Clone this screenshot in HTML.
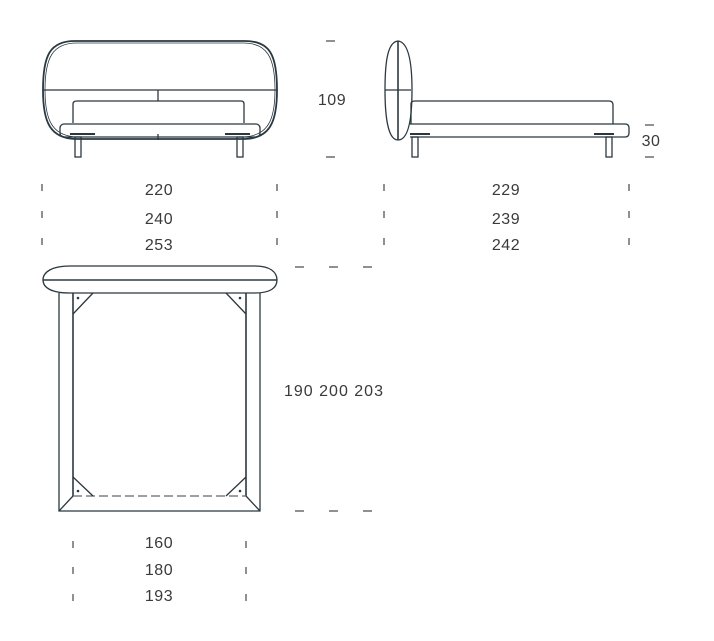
<!DOCTYPE html>
<html><head><meta charset="utf-8"><style>
html,body{margin:0;padding:0;background:#fff;}
svg{display:block}
text{font-family:"Liberation Sans",sans-serif;font-size:16px;fill:#3a3a3a;letter-spacing:0.5px;}
</style></head><body>
<svg width="714" height="641" viewBox="0 0 714 641" xmlns="http://www.w3.org/2000/svg">
<g fill="none" stroke="#2b3840" stroke-width="1.3">
<!-- front view -->
<path d="M75 41 H245 C270 41 277 55 277 90 C277 122 270 138 245 139 H75 C50 138 43 122 43 90 C43 55 50 41 75 41 Z" stroke-width="1.8"/>
<path d="M77 43 H243 C267 43 275 57 275 90 C275 120 268 136 243 137 H77 C52 136 45 120 45 90 C45 57 53 43 77 43 Z" stroke-width="0.8"/>
<line x1="43" y1="90" x2="277" y2="90"/>
<line x1="158" y1="90" x2="158" y2="101"/>
<path d="M73 123 V104 Q73 101 77 101 H241 Q244 101 244 104 V123"/>
<rect x="60" y="124" width="200" height="13" rx="4"/>
<line x1="158" y1="134" x2="158" y2="140"/>
<rect x="75" y="137" width="6" height="20"/>
<rect x="237" y="137" width="6" height="20"/>
<line x1="70" y1="134" x2="95" y2="134" stroke-width="2"/>
<line x1="225" y1="134" x2="250" y2="134" stroke-width="2"/>
<!-- side view -->
<path d="M398 41 C388 42 385 60 385 90 C385 125 390 140 398 140 C407 140 412 125 412 90 C412 60 408 42 398 41 Z"/>
<line x1="398" y1="41" x2="398" y2="140" stroke-width="1.6"/>
<line x1="385" y1="90" x2="411" y2="90"/>
<path d="M411 124 V104 Q411 101 415 101 H609 Q613 101 613 105 V124"/>
<path d="M410 124 H625 Q629 124 629 128 V133 Q629 137 625 137 H410"/>
<rect x="412" y="137" width="6" height="20"/>
<rect x="606" y="137" width="6" height="20"/>
<line x1="410" y1="134" x2="430" y2="134" stroke-width="2"/>
<line x1="594" y1="134" x2="614" y2="134" stroke-width="2"/>
<!-- top view -->
<path d="M70 266 H255 C270 266 277 272 277 280 C277 288 270 293 255 293 H70 C52 293 43 288 43 280 C43 272 52 266 70 266 Z"/>
<line x1="43" y1="280" x2="277" y2="280" stroke-width="1.6"/>
<path d="M59 293 V511 H260 V293"/>
<line x1="73" y1="293" x2="73" y2="496" stroke-width="1.6"/>
<line x1="246" y1="293" x2="246" y2="496" stroke-width="1.6"/>
<line x1="73" y1="496" x2="246" y2="496" stroke-dasharray="9 4" stroke="#666"/>
<line x1="59" y1="511" x2="73" y2="496"/>
<line x1="260" y1="511" x2="246" y2="496"/>
<line x1="93" y1="293" x2="73" y2="314"/>
<line x1="226" y1="293" x2="246" y2="314"/>
<line x1="73" y1="477" x2="93" y2="496"/>
<line x1="246" y1="477" x2="226" y2="496"/>
</g>
<g fill="#2b3840">
<circle cx="78" cy="298" r="1.3"/><circle cx="240" cy="298" r="1.3"/>
<circle cx="78" cy="491" r="1.3"/><circle cx="240" cy="491" r="1.3"/>
</g>
<!-- dimension ticks -->
<g stroke="#555" stroke-width="1.3">
<line x1="326" y1="41" x2="335" y2="41"/><line x1="326" y1="157" x2="335" y2="157"/>
<line x1="645" y1="125" x2="654" y2="125"/><line x1="645" y1="157" x2="654" y2="157"/>
<line x1="42" y1="184" x2="42" y2="191"/><line x1="42" y1="211" x2="42" y2="218"/><line x1="42" y1="238" x2="42" y2="245"/>
<line x1="277" y1="184" x2="277" y2="191"/><line x1="277" y1="211" x2="277" y2="218"/><line x1="277" y1="238" x2="277" y2="245"/>
<line x1="384" y1="184" x2="384" y2="191"/><line x1="384" y1="211" x2="384" y2="218"/><line x1="384" y1="238" x2="384" y2="245"/>
<line x1="629" y1="184" x2="629" y2="191"/><line x1="629" y1="211" x2="629" y2="218"/><line x1="629" y1="238" x2="629" y2="245"/>
<line x1="295" y1="267" x2="304" y2="267"/><line x1="329" y1="267" x2="338" y2="267"/><line x1="363" y1="267" x2="372" y2="267"/>
<line x1="295" y1="511" x2="304" y2="511"/><line x1="329" y1="511" x2="338" y2="511"/><line x1="363" y1="511" x2="372" y2="511"/>
<line x1="73" y1="541" x2="73" y2="548"/><line x1="73" y1="567" x2="73" y2="574"/><line x1="73" y1="594" x2="73" y2="601"/>
<line x1="246" y1="541" x2="246" y2="548"/><line x1="246" y1="567" x2="246" y2="574"/><line x1="246" y1="594" x2="246" y2="601"/>
</g>
<text x="332" y="105" text-anchor="middle">109</text>
<text x="651" y="146" text-anchor="middle">30</text>
<text x="159" y="195" text-anchor="middle">220</text>
<text x="159" y="224" text-anchor="middle">240</text>
<text x="159" y="250" text-anchor="middle">253</text>
<text x="506" y="195" text-anchor="middle">229</text>
<text x="506" y="224" text-anchor="middle">239</text>
<text x="506" y="250" text-anchor="middle">242</text>
<text x="334" y="396" text-anchor="middle" style="letter-spacing:1px">190 200 203</text>
<text x="159" y="548" text-anchor="middle">160</text>
<text x="159" y="575" text-anchor="middle">180</text>
<text x="159" y="601" text-anchor="middle">193</text>
</svg>
</body></html>
